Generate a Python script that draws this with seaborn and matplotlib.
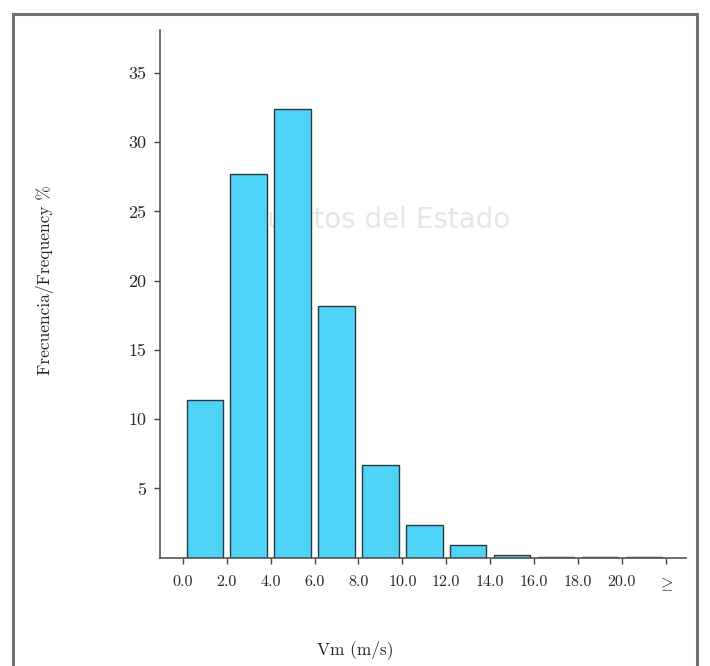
import matplotlib
matplotlib.use("Agg")
import matplotlib.pyplot as plt
import seaborn as sns
import pandas as pd
from matplotlib.patches import Rectangle

# ---- data ----
bins = ["0-2", "2-4", "4-6", "6-8", "8-10", "10-12", "12-14", "14-16", "16-18", "18-20", ">=20"]
freq = [11.4, 27.7, 32.4, 18.2, 6.7, 2.35, 0.92, 0.16, 0.05, 0.05, 0.05]
edge_labels = ["0.0", "2.0", "4.0", "6.0", "8.0", "10.0", "12.0", "14.0", "16.0", "18.0", "20.0", r"$\geq$"]
y_ticks = [5, 10, 15, 20, 25, 30, 35]

sns.set_theme(style="ticks")
plt.rcParams["font.family"] = ["cmr10", "DejaVu Serif"]
plt.rcParams["mathtext.fontset"] = "cm"
plt.rcParams["axes.formatter.use_mathtext"] = True

df = pd.DataFrame({"bin": bins, "freq": freq})

fig = plt.figure(figsize=(7.10, 6.66), dpi=100)
fig.patch.set_facecolor("white")
ax = fig.add_axes([160 / 710, 1 - 557.7 / 666, (686 - 160) / 710, (557.7 - 30) / 666])

# faint watermark
ax.text(0.42, 0.64, "Puertos del Estado", transform=ax.transAxes, ha="center", va="center",
        fontsize=20, color="#e6e6e6", family="DejaVu Sans", zorder=0)

sns.barplot(data=df, x="bin", y="freq", color="#4fd3f6", saturation=1, width=0.83,
            edgecolor="#2a3a40", linewidth=1.0, ax=ax, zorder=2)

ax.set_xlim(-1.02, 10.96)
ax.set_ylim(0, 38.1)
ax.set_xticks([i - 0.5 for i in range(len(edge_labels))])
ax.set_xticklabels(edge_labels, fontsize=11.5)
ax.set_yticks(y_ticks)
ax.set_yticklabels([str(v) for v in y_ticks], fontsize=13)
ax.tick_params(axis="both", direction="out", length=4, width=1, color="#444444", pad=6)
ax.tick_params(axis="x", pad=9)

for s in ["top", "right"]:
    ax.spines[s].set_visible(False)
for s in ["left", "bottom"]:
    ax.spines[s].set_color("#555555")
    ax.spines[s].set_linewidth(1.2)
ax.patch.set_alpha(0)

ax.set_xlabel("")
ax.set_ylabel("")
fig.text(45 / 710, 1 - 280 / 666, "Frecuencia/Frequency %", rotation=90, ha="center", va="center", fontsize=12.5)
fig.text(355 / 710, 1 - 650 / 666, "Vm (m/s)", ha="center", va="center", fontsize=12.5)

# outer frame
fig.patches.append(Rectangle((13 / 710, -0.05), (697 - 13) / 710, (1 - 14 / 666) + 0.05,
                             transform=fig.transFigure, fill=False, edgecolor="#707070",
                             linewidth=2.2, zorder=10))

fig.savefig("out.png", dpi=100)
